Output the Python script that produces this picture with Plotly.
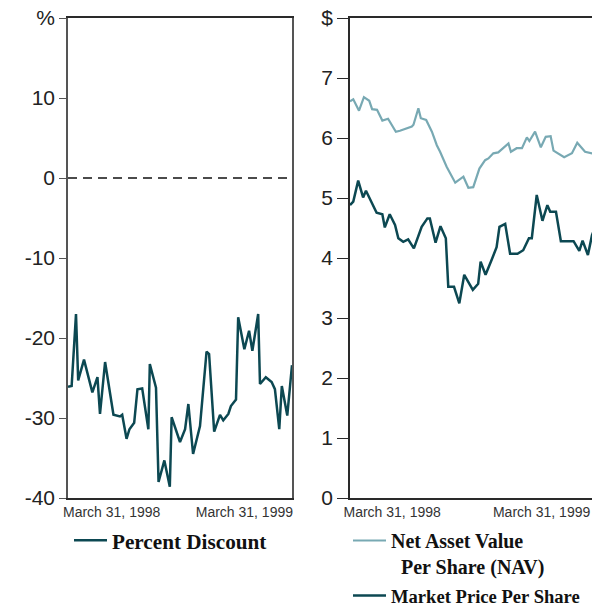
import plotly.graph_objects as go

# ---- Left panel: Percent Discount ----
disc_dates = [
    "1997-12-01", "1997-12-11", "1997-12-23", "1997-12-29", "1998-01-14",
    "1998-02-06", "1998-02-20", "1998-02-27", "1998-03-13", "1998-04-05",
    "1998-04-23", "1998-04-29", "1998-05-11", "1998-05-19", "1998-06-01",
    "1998-06-10", "1998-06-23", "1998-07-10", "1998-07-14", "1998-07-31",
    "1998-08-07", "1998-08-23", "1998-09-07", "1998-09-12", "1998-10-05",
    "1998-10-19", "1998-10-28", "1998-11-10", "1998-11-29", "1998-12-17",
    "1998-12-24", "1999-01-07", "1999-01-23", "1999-02-01", "1999-02-15",
    "1999-02-22", "1999-03-08", "1999-03-14", "1999-03-31", "1999-04-13",
    "1999-04-22", "1999-05-08", "1999-05-13", "1999-05-29", "1999-06-14",
    "1999-06-23", "1999-07-05", "1999-07-12", "1999-07-27", "1999-08-09",
]
disc_values = [
    -26.1, -26.0, -17.0, -25.3, -22.7,
    -26.8, -24.9, -29.5, -23.0, -29.6,
    -29.8, -29.6, -32.6, -31.4, -30.6,
    -26.4, -26.3, -31.4, -23.25, -26.2,
    -38.0, -35.3, -38.6, -29.9, -33.0,
    -31.4, -28.25, -34.5, -31.0, -21.7,
    -22.0, -31.7, -29.6, -30.3, -29.5,
    -28.5, -27.7, -17.4, -21.4, -19.1,
    -21.6, -17.0, -25.75, -24.9, -25.5,
    -26.4, -31.4, -26.0, -29.7, -23.4,
]

# ---- Right panel: NAV and Market Price ----
nav_dates = [
    "1997-12-01", "1997-12-09", "1997-12-23", "1998-01-04", "1998-01-17",
    "1998-01-24", "1998-02-05", "1998-02-18", "1998-03-04", "1998-03-23",
    "1998-04-02", "1998-05-01", "1998-05-05", "1998-05-17", "1998-05-23",
    "1998-06-05", "1998-06-19", "1998-07-01", "1998-07-09", "1998-07-25",
    "1998-08-15", "1998-09-04", "1998-09-16", "1998-09-28", "1998-10-13",
    "1998-10-27", "1998-11-04", "1998-11-16", "1998-11-28", "1998-12-11",
    "1998-12-23", "1998-12-29", "1999-01-12", "1999-01-25", "1999-02-06",
    "1999-02-12", "1999-02-26", "1999-03-12", "1999-03-24", "1999-04-05",
    "1999-04-12", "1999-05-08", "1999-05-27", "1999-06-09", "1999-06-28",
    "1999-07-15", "1999-07-25", "1999-08-09",
]
nav_values = [
    6.61, 6.645, 6.455, 6.68, 6.62,
    6.48, 6.47, 6.29, 6.32, 6.105,
    6.12, 6.19, 6.22, 6.495, 6.33,
    6.30, 6.105, 5.88, 5.77, 5.52,
    5.255, 5.355, 5.17, 5.18, 5.49,
    5.63, 5.66, 5.745, 5.76, 5.845,
    5.91, 5.77, 5.83, 5.83, 6.01,
    5.95, 6.105, 5.845, 6.02, 6.03,
    5.79, 5.68, 5.745, 5.92, 5.77,
    5.745, 5.76, 5.78,
]

mkt_dates = [
    "1997-12-01", "1997-12-09", "1997-12-21", "1998-01-02", "1998-01-09",
    "1998-01-23", "1998-02-04", "1998-02-18", "1998-02-24", "1998-03-08",
    "1998-03-21", "1998-03-29", "1998-04-10", "1998-04-22", "1998-05-06",
    "1998-05-25", "1998-06-08", "1998-06-14", "1998-06-28", "1998-07-10",
    "1998-07-23", "1998-07-29", "1998-08-12", "1998-08-25", "1998-09-06",
    "1998-09-27", "1998-10-10", "1998-10-16", "1998-10-28", "1998-11-12",
    "1998-11-24", "1998-12-01", "1998-12-15", "1998-12-27", "1999-01-14",
    "1999-01-28", "1999-02-11", "1999-02-18", "1999-03-02", "1999-03-16",
    "1999-03-28", "1999-04-04", "1999-04-18", "1999-04-30", "1999-05-31",
    "1999-06-14", "1999-06-22", "1999-07-05", "1999-07-15", "1999-07-25",
    "1999-08-09",
]
mkt_values = [
    4.883, 4.94, 5.29, 5.01, 5.12,
    4.92, 4.755, 4.73, 4.51, 4.73,
    4.55, 4.33, 4.27, 4.31, 4.16,
    4.52, 4.66, 4.66, 4.255, 4.53,
    4.33, 3.52, 3.52, 3.245, 3.72,
    3.47, 3.57, 3.94, 3.72, 3.97,
    4.18, 4.52, 4.57, 4.07, 4.07,
    4.13, 4.33, 4.33, 5.05, 4.62,
    4.88, 4.77, 4.77, 4.28, 4.28,
    4.12, 4.29, 4.05, 4.38, 4.55,
    4.6,
]

left_yticks = [-40, -30, -20, -10, 0, 10, 20]
left_ytext = ["-40", "-30", "-20", "-10", "0", "10", "%"]
right_yticks = [0, 1, 2, 3, 4, 5, 6, 7, 8]
right_ytext = ["0", "1", "2", "3", "4", "5", "6", "7", "$"]
x_tickvals = ["1998-03-31", "1999-03-31"]
x_ticktext = ["March 31, 1998", "March 31, 1999"]
left_x_range = ["1997-12-01", "1999-08-09"]
right_x_range = ["1997-12-01", "1999-07-15"]

DARK = "#0c4852"
LIGHT = "#78a9b3"
AXIS = "#2a2a2a"
SIDE = "#555555"
W, H = 592, 607
TOP, BOT = 18, 498
PH = BOT - TOP

fig = go.Figure()
fig.add_trace(go.Scatter(
    x=disc_dates, y=disc_values, mode="lines", name="<b>Percent Discount</b>",
    line=dict(color=DARK, width=2.5), xaxis="x", yaxis="y", legend="legend",
))
fig.add_trace(go.Scatter(
    x=nav_dates, y=nav_values, mode="lines",
    name="<b>Net Asset Value<br>\u00a0\u00a0Per Share (NAV)</b>",
    line=dict(color=LIGHT, width=2.2), xaxis="x2", yaxis="y2", legend="legend2",
))
fig.add_trace(go.Scatter(
    x=mkt_dates, y=mkt_values, mode="lines",
    name="<b><span style='font-size:18.6px'>Market Price Per Share</span></b>",
    line=dict(color=DARK, width=2.5), xaxis="x2", yaxis="y2", legend="legend2",
))

tickfont = dict(family="Liberation Sans, Arial, sans-serif", size=21, color="#222")
xfont = dict(family="Liberation Sans Narrow, Arial Narrow, Liberation Sans, sans-serif",
             size=14, color="#333")
legfont_l = dict(family="Liberation Serif, Times New Roman, serif", size=21.2, color="#111")
legfont_r = dict(family="Liberation Serif, Times New Roman, serif", size=20, color="#111")


def ypaper(px):
    return (BOT - px) / PH


fig.update_layout(
    width=W, height=H,
    margin=dict(l=0, r=0, t=TOP, b=H - BOT, autoexpand=False),
    paper_bgcolor="white", plot_bgcolor="white",
    xaxis=dict(
        domain=[68 / W, 292 / W], type="date", automargin=False,
        range=left_x_range,
        tickvals=x_tickvals, ticktext=x_ticktext, tickfont=xfont,
        ticks="", showgrid=False, zeroline=False, ticklabeloverflow="allow",
        showline=True, linecolor=AXIS, linewidth=1.5, mirror=True,
    ),
    yaxis=dict(
        domain=[0, 1], range=[-40, 20], automargin=False,
        tickvals=left_yticks, ticktext=left_ytext, tickfont=tickfont,
        ticks="outside", ticklen=7, tickcolor=SIDE, tickwidth=1.2,
        showgrid=False, zeroline=False, ticklabeloverflow="allow",
        showline=True, linecolor=SIDE, linewidth=1.6, mirror=True,
    ),
    xaxis2=dict(
        domain=[350 / W, 1], type="date", anchor="y2", automargin=False,
        range=right_x_range,
        tickvals=x_tickvals, ticktext=x_ticktext, tickfont=xfont,
        ticklabelshift=-7, ticklabeloverflow="allow",
        ticks="", showgrid=False, zeroline=False,
        showline=True, linecolor=AXIS, linewidth=1.5, mirror=True,
    ),
    yaxis2=dict(
        domain=[0, 1], range=[0, 8], anchor="x2", automargin=False,
        tickvals=right_yticks, ticktext=right_ytext, tickfont=tickfont,
        ticks="outside", ticklen=11, tickcolor=AXIS, tickwidth=1.2,
        showgrid=False, zeroline=False, ticklabeloverflow="allow",
        showline=True, linecolor=AXIS, linewidth=1.5, mirror=False,
    ),
    legend=dict(
        x=69 / W, y=ypaper(520), xanchor="left", yanchor="top",
        font=legfont_l, bgcolor="rgba(0,0,0,0)", borderwidth=0, itemwidth=33,
    ),
    legend2=dict(
        x=348 / W, y=ypaper(521), xanchor="left", yanchor="top",
        font=legfont_r, bgcolor="rgba(0,0,0,0)", borderwidth=0, itemwidth=33,
        valign="top", tracegroupgap=0,
    ),
    showlegend=True,
)

fig.add_shape(
    type="line", xref="x domain", yref="y", x0=0, x1=1, y0=0, y1=0,
    line=dict(color="#111", width=1.3, dash="9px,6px"),
)

fig.write_html(
    "out.html",
    config={"displayModeBar": False},
    post_script="document.body.style.margin='0';document.body.style.overflow='hidden';",
)
